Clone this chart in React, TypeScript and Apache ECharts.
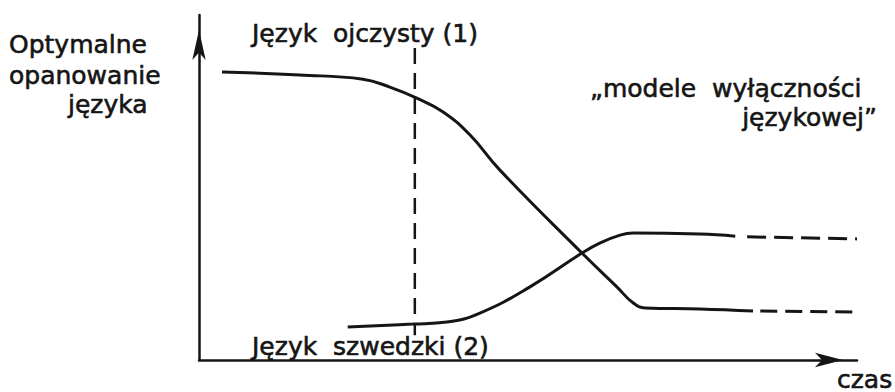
import React, { useEffect, useRef } from "react";
import * as echarts from "echarts";

// x: time (0–100), y: optimal language proficiency (0–100)
const nativeSolid: [number, number][] = [
  [3.5, 83.5], [15.3, 82.6], [24.9, 81.4], [29.0, 79.1], [33.1, 75.9], [37.1, 71.9],
  [41.2, 65.2], [45.7, 55.1], [58.2, 31.0], [63.5, 21.2], [66.0, 16.5], [67.8, 15.1],
  [76.1, 14.8], [84.2, 14.2],
];
const nativeDashed: [number, number][] = [[85.3, 14.2], [99.4, 13.9]];

const swedishSolid: [number, number][] = [
  [22.6, 9.6], [32.5, 10.4], [37.7, 11.0], [42.7, 13.6], [50.3, 21.2], [58.2, 31.0],
  [60.9, 33.9], [64.0, 36.2], [66.0, 36.8], [76.1, 36.5], [81.5, 35.9],
];
const swedishDashed: [number, number][] = [[83.3, 35.7], [100, 35.1]];

const markerLine: [number, number][] = [[32.8, 90.4], [32.8, 7.2]];

const labelNative = "Język  ojczysty (1)";
const labelSwedish = "Język  szwedzki (2)";
const yTitle = ["Optymalne", "opanowanie", "języka"];
const noteLines = ["„modele  wyłączności", "językowej”"];
const xTitle = "czas";

const INK = "#151515";
const FONT = "DejaVu Sans";

export default function App() {
  const ref = useRef<HTMLDivElement>(null);
  useEffect(() => {
    if (!ref.current) return;
    const chart = echarts.init(ref.current, undefined, { renderer: "svg" });
    const txt = (text: string, x: number, y: number, align: string = "left") => ({
      type: "text",
      x,
      y,
      style: {
        text,
        fontFamily: FONT,
        fontSize: 25,
        fill: INK,
        stroke: INK,
        lineWidth: 0.6,
        textAlign: align,
        textVerticalAlign: "middle",
      },
    });
    const solid = (data: [number, number][]) => ({
      type: "line",
      data,
      smooth: 0.45,
      showSymbol: false,
      symbol: "none",
      clip: false,
      lineStyle: { color: INK, width: 3 },
    });
    const dashed = (data: [number, number][], dash: number[]) => ({
      type: "line",
      data,
      showSymbol: false,
      symbol: "none",
      clip: false,
      lineStyle: { color: INK, width: 3, type: dash },
    });
    chart.setOption({
      animation: false,
      backgroundColor: "#ffffff",
      grid: { left: 199, right: 38, top: 15, bottom: 32 },
      xAxis: {
        type: "value",
        min: 0,
        max: 100,
        axisLine: {
          show: true,
          lineStyle: { color: INK, width: 2.5 },
          symbol: ["none", "arrow"],
          symbolSize: [11, 28],
          symbolOffset: [0, -14],
        },
        axisTick: { show: false },
        axisLabel: { show: false },
        splitLine: { show: false },
      },
      yAxis: {
        type: "value",
        min: 0,
        max: 100,
        axisLine: {
          show: true,
          lineStyle: { color: INK, width: 2.5 },
          symbol: ["none", "arrow"],
          symbolSize: [10, 30],
          symbolOffset: [0, -15],
        },
        axisTick: { show: false },
        axisLabel: { show: false },
        splitLine: { show: false },
      },
      series: [
        solid(nativeSolid),
        dashed(nativeDashed, [17, 8]),
        solid(swedishSolid),
        dashed(swedishDashed, [19, 8]),
        {
          type: "line",
          data: markerLine,
          showSymbol: false,
          symbol: "none",
          clip: false,
          lineStyle: { color: INK, width: 2.5, type: [16, 9] },
        },
      ],
      graphic: [
        txt(yTitle[0], 9, 44),
        txt(yTitle[1], 9, 75),
        txt(yTitle[2], 68, 104),
        txt(labelNative, 252, 33),
        txt(noteLines[0], 590, 88),
        txt(noteLines[1], 877, 117, "right"),
        txt(labelSwedish, 252, 346),
        txt(xTitle, 837, 379),
      ],
    });
    return () => chart.dispose();
  }, []);
  return (
    <div
      ref={ref}
      style={{ position: "absolute", left: 0, top: 0, width: 895, height: 392, background: "#fff" }}
    />
  );
}
